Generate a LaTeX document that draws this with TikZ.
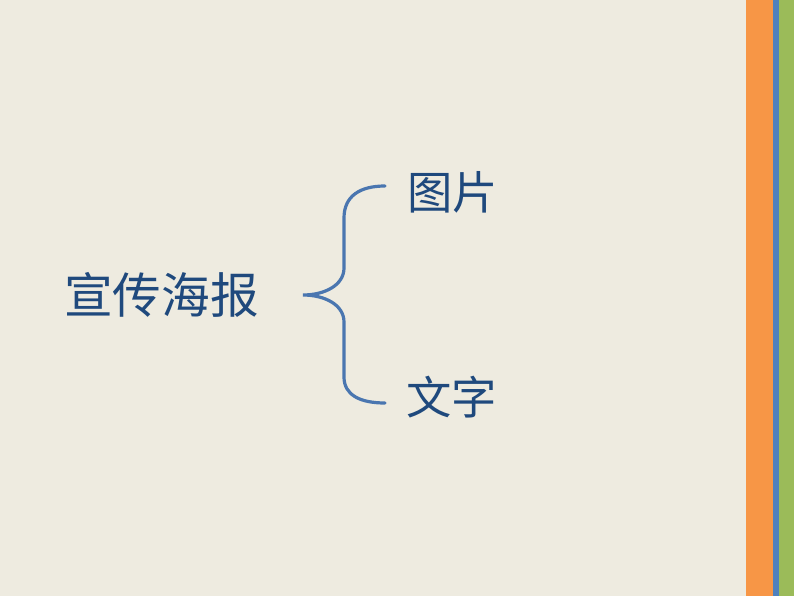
\documentclass[tikz,border=0pt]{standalone}
\usepackage{fontspec}
\newfontfamily\cjk{Noto Sans CJK SC}
\definecolor{bg}{HTML}{EEEBE0}
\definecolor{orng}{HTML}{F79646}
\definecolor{blu}{HTML}{4F81BD}
\definecolor{brc}{HTML}{4A76B0}
\definecolor{grn}{HTML}{9BBB59}
\definecolor{txt}{HTML}{1F497D}
\begin{document}
\begin{tikzpicture}[x=0.75pt,y=-0.75pt,
  lbl/.style={text=txt,inner sep=0pt,font=\cjk\fontsize{36.5}{36.5}\selectfont},
  sublbl/.style={text=txt,inner sep=0pt,font=\cjk\fontsize{34}{34}\selectfont},
  bracestyle/.style={draw=brc,line width=2.4pt,line cap=round}]
\useasboundingbox (0,0) rectangle (794,596);
\fill[bg] (0,0) rectangle (794,596);
\fill[orng] (746,0) rectangle (773,596);
\fill[blu] (773,0) rectangle (779,596);
\fill[grn] (779,0) rectangle (794,596);
\node[lbl,anchor=west] (main) at (64,295) {宣传海报};
\node[sublbl,anchor=west] (pic) at (407,192) {图片};
\node[sublbl,anchor=west] (word) at (406,397) {文字};
\coordinate (tip) at (303,295);
\coordinate (top) at (385,186);
\coordinate (bot) at (385,403);
\draw[bracestyle] (top) .. controls (360,186) and (344,196) .. (344,218)
  -- (344,268) .. controls (344,285) and (325,295) .. (tip)
  .. controls (325,295) and (344,305) .. (344,322)
  -- (344,377) .. controls (344,395) and (360,403) .. (bot);
\end{tikzpicture}
\end{document}
